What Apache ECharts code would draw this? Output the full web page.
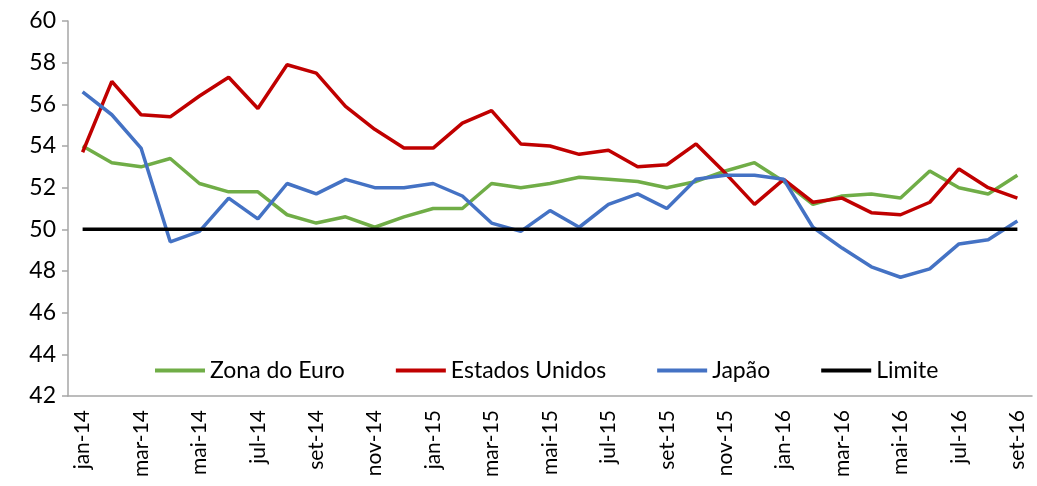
<!DOCTYPE html>
<html>
<head>
<meta charset="utf-8">
<script src="https://cdn.jsdelivr.net/npm/echarts@6/dist/echarts.min.js"></script>
<style>
  html, body { margin: 0; padding: 0; background: #fff; }
  #chart { width: 1037px; height: 486px; }
</style>
</head>
<body>
<div id="chart"></div>
<script>
// meses jan-14 .. set-16
const months = ['jan-14','fev-14','mar-14','abr-14','mai-14','jun-14','jul-14','ago-14','set-14','out-14','nov-14','dez-14',
  'jan-15','fev-15','mar-15','abr-15','mai-15','jun-15','jul-15','ago-15','set-15','out-15','nov-15','dez-15',
  'jan-16','fev-16','mar-16','abr-16','mai-16','jun-16','jul-16','ago-16','set-16']

const zonaEuro = [54.0, 53.2, 53.0, 53.4, 52.2, 51.8, 51.8, 50.7, 50.3, 50.6, 50.1, 50.6,
  51.0, 51.0, 52.2, 52.0, 52.2, 52.5, 52.4, 52.3, 52.0, 52.3, 52.8, 53.2,
  52.3, 51.2, 51.6, 51.7, 51.5, 52.8, 52.0, 51.7, 52.6]

const estadosUnidos = [53.7, 57.1, 55.5, 55.4, 56.4, 57.3, 55.8, 57.9, 57.5, 55.9, 54.8, 53.9,
  53.9, 55.1, 55.7, 54.1, 54.0, 53.6, 53.8, 53.0, 53.1, 54.1, 52.7, 51.2,
  52.4, 51.3, 51.5, 50.8, 50.7, 51.3, 52.9, 52.0, 51.5]

const japao = [56.6, 55.5, 53.9, 49.4, 49.9, 51.5, 50.5, 52.2, 51.7, 52.4, 52.0, 52.0,
  52.2, 51.6, 50.3, 49.9, 50.9, 50.1, 51.2, 51.7, 51.0, 52.4, 52.6, 52.6,
  52.4, 50.1, 49.1, 48.2, 47.7, 48.1, 49.3, 49.5, 50.4]

const limite = months.map(() => 50)

const chart = echarts.init(document.getElementById('chart'))

const lineSeries = (name, data, color) => ({
  name: name,
  type: 'line',
  data: data,
  symbol: 'none',
  animation: false,
  lineStyle: { color: color, width: 3.5 },
  itemStyle: { color: color }
})

chart.setOption({
  animation: false,
  textStyle: { fontFamily: 'Lato, "Open Sans", sans-serif' },
  grid: { left: 68, right: 5, top: 21, bottom: 90 },
  legend: {
    left: 150,
    top: 354,
    itemWidth: 50,
    itemHeight: 4,
    itemGap: 51,
    icon: 'rect',
    textStyle: { fontSize: 23, color: '#000', fontFamily: 'Lato, sans-serif' },
    data: ['Zona do Euro', 'Estados Unidos', 'Japão', 'Limite']
  },
  xAxis: {
    type: 'category',
    data: months,
    boundaryGap: true,
    axisLine: { lineStyle: { color: '#a6a6a6', width: 1.5 } },
    axisTick: { interval: 1, length: 8, lineStyle: { color: '#a6a6a6', width: 1.5 } },
    axisLabel: { interval: 1, rotate: 90, fontSize: 21, color: '#000', margin: 14 }
  },
  yAxis: {
    type: 'value',
    min: 42,
    max: 60,
    interval: 2,
    splitLine: { show: false },
    axisLine: { show: true, lineStyle: { color: '#a6a6a6', width: 1.5 } },
    axisTick: { show: true, length: 6, lineStyle: { color: '#a6a6a6', width: 1.5 } },
    axisLabel: { fontSize: 23, color: '#000', margin: 12 }
  },
  series: [
    lineSeries('Zona do Euro', zonaEuro, '#70ad47'),
    lineSeries('Estados Unidos', estadosUnidos, '#c00000'),
    lineSeries('Japão', japao, '#4472c4'),
    lineSeries('Limite', limite, '#000000')
  ]
})
</script>
</body>
</html>
